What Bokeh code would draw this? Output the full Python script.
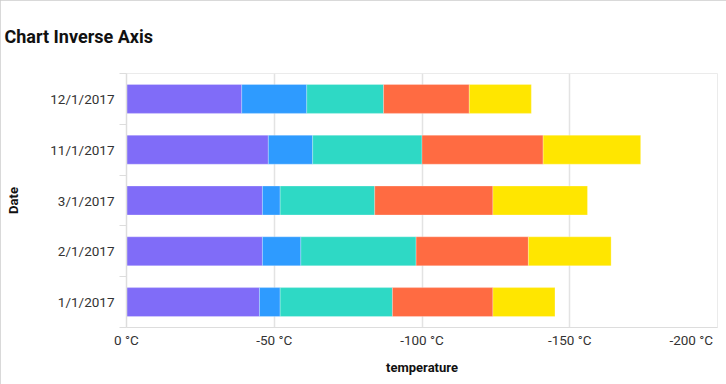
from bokeh.plotting import figure
from bokeh.models import Range1d, FixedTicker, ColumnDataSource
from bokeh.embed import file_html
from bokeh.resources import INLINE

categories = ["1/1/2017", "2/1/2017", "3/1/2017", "11/1/2017", "12/1/2017"]
series_names = ["Series 1", "Series 2", "Series 3", "Series 4", "Series 5"]
series_1 = [-45, -46, -46, -48, -39]
series_2 = [-7, -13, -6, -15, -22]
series_3 = [-38, -39, -32, -37, -26]
series_4 = [-34, -38, -40, -41, -29]
series_5 = [-21, -28, -32, -33, -21]
colors = ["#806CF8", "#2E9BFF", "#2ED9C5", "#FF6B42", "#FFE600"]
x_ticks = [0, -50, -100, -150, -200]
x_tick_labels = ["0 °C", "-50 °C", "-100 °C", "-150 °C", "-200 °C"]

pos = [i + 0.5 for i in range(len(categories))]
source = ColumnDataSource(dict(y=pos, **{n: v for n, v in zip(series_names, [series_1, series_2, series_3, series_4, series_5])}))

p = figure(width=726, height=384, output_backend="svg", toolbar_location=None,
           x_range=Range1d(start=0, end=-200), y_range=Range1d(0, len(categories)),
           min_border_left=126, min_border_right=9, min_border_top=73, min_border_bottom=57)
p.styles = {"outline": "1px solid #cccccc", "outline-offset": "-1px"}

p.hbar_stack(series_names, y="y", height=0.57, color=colors, source=source,
             line_color="white", line_alpha=0.25, line_width=1)

p.title.text = "Chart Inverse Axis"
p.title.text_font = "Roboto"
p.title.text_font_size = "18px"
p.title.text_font_style = "bold"
p.title.text_color = "#111111"
p.title.offset = -122
p.title.vertical_align = "top"
p.title.standoff = 49

p.outline_line_color = "#ebebeb"
p.background_fill_color = "white"
p.border_fill_color = "white"

# x axis (the one below the plot)
pad = "\u00a0" * 4
xa = p.below[0]
xa.ticker = FixedTicker(ticks=x_ticks)
xa.major_label_overrides = {t: (l if t != x_ticks[-1] else l + pad) for t, l in zip(x_ticks, x_tick_labels)}
xa.axis_label = "temperature"
xa.axis_label_text_font = "Roboto"
xa.axis_label_text_font_size = "13px"
xa.axis_label_text_font_style = "bold"
xa.axis_label_text_color = "#111111"
xa.axis_label_standoff = 9
xa.major_label_text_font = "Roboto"
xa.major_label_text_font_size = "13.5px"
xa.major_label_text_color = "#333333"
xa.major_label_standoff = 4
xa.major_tick_out = 0
xa.major_tick_in = 0
xa.minor_tick_out = 0
xa.minor_tick_in = 0
xa.axis_line_color = "#dddddd"

p.xgrid.ticker = FixedTicker(ticks=x_ticks)
p.xgrid.grid_line_color = "#e3e3e3"
p.xgrid.grid_line_width = 1.5
p.ygrid.grid_line_color = None

# y axis
ya = p.left[0]
ya.ticker = FixedTicker(ticks=pos, minor_ticks=list(range(len(categories) + 1)))
ya.major_label_overrides = {y: c for y, c in zip(pos, categories)}
ya.axis_label = "Date"
ya.axis_label_text_font = "Roboto"
ya.axis_label_text_font_size = "13px"
ya.axis_label_text_font_style = "bold"
ya.axis_label_text_color = "#111111"
ya.axis_label_standoff = 26
ya.major_label_text_font = "Roboto"
ya.major_label_text_font_size = "13.5px"
ya.major_label_text_color = "#333333"
ya.major_label_standoff = 5
ya.major_tick_out = 0
ya.major_tick_in = 0
ya.minor_tick_out = 7
ya.minor_tick_in = 0
ya.minor_tick_line_color = "#dddddd"
ya.axis_line_color = "#dddddd"
ya.axis_line_width = 1.5

open("out.html", "w").write(file_html(p, INLINE))
